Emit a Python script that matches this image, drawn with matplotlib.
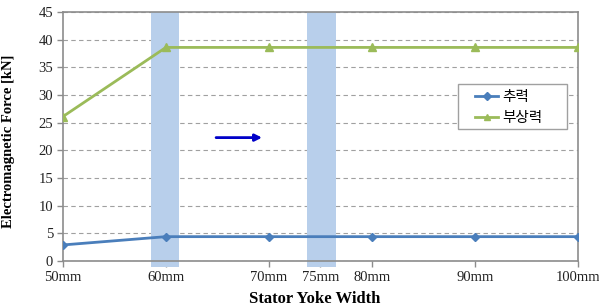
import matplotlib
matplotlib.use("Agg")
import matplotlib.pyplot as plt
from matplotlib.patches import Rectangle

widths = [50, 60, 70, 80, 90, 100]
thrust = [2.9, 4.4, 4.4, 4.4, 4.4, 4.4]
levitation = [26.1, 38.6, 38.6, 38.6, 38.6, 38.6]
series_names = ["추력", "부상력"]
xticks = [50, 60, 70, 75, 80, 90, 100]
xtick_labels = ["50mm", "60mm", "70mm", "75mm", "80mm", "90mm", "100mm"]
bands = [(58.6, 61.3), (73.7, 76.5)]

fig = plt.figure(figsize=(5.99, 3.08), dpi=100)
ax = fig.add_axes([0.105, 0.1526, 0.86, 0.8084])

for a, b in bands:
    ax.axvspan(a, b, ymin=-0.025, ymax=1.0, color="#b8cfeb", zorder=1, clip_on=False, lw=0)

ax.plot(widths, thrust, color="#4a7ebb", lw=2, marker="D", ms=4.5, label=series_names[0], zorder=3)
ax.plot(widths, levitation, color="#9bbb59", lw=2, marker="^", ms=6, label=series_names[1], zorder=3)

ax.annotate("", xy=(69.6, 22.3), xytext=(64.6, 22.3),
            arrowprops=dict(arrowstyle="-|>", color="#0000c8", lw=2, mutation_scale=10), zorder=4)

ax.set_xlim(50, 100)
ax.set_ylim(0, 45)
ax.set_yticks(range(0, 50, 5))
ax.set_xticks(xticks)
ax.set_xticklabels(xtick_labels)
ax.yaxis.grid(True, linestyle=(0, (4, 3)), color="#a0a0a0", lw=0.8, zorder=0)
ax.set_axisbelow(True)
for s in ax.spines.values():
    s.set_color("#8c8c8c")
    s.set_linewidth(1.2)

ax.tick_params(axis="both", colors="#8c8c8c", labelcolor="#222222", length=4, width=1, pad=3)
for lab in ax.get_xticklabels() + ax.get_yticklabels():
    lab.set_family("Liberation Serif")
    lab.set_fontsize(10.5)

ax.set_xlabel("Stator Yoke Width", family="Liberation Serif", fontweight="bold", fontsize=12)
ax.xaxis.set_label_coords(0.489, -0.12)
ax.set_ylabel("Electromagnetic Force [kN]", family="Liberation Serif", fontweight="bold", fontsize=10.5)
ax.yaxis.set_label_coords(-0.093, 0.48)

# legend frame
ax.add_patch(Rectangle((0.767, 0.530), 0.212, 0.181, transform=ax.transAxes, facecolor="white",
                       edgecolor="#a0a0a0", lw=1, zorder=5))
leg = ax.legend(loc="upper left", bbox_to_anchor=(0.800, 0.686),
                prop={"family": ["Noto Sans CJK KR", "DejaVu Sans"], "size": 10.5},
                frameon=False, borderpad=0, labelspacing=0.5,
                handlelength=1.6, handletextpad=0.3, markerscale=0.8, borderaxespad=0)
leg.set_zorder(6)

fig.savefig("out.png", dpi=100, facecolor="white")
